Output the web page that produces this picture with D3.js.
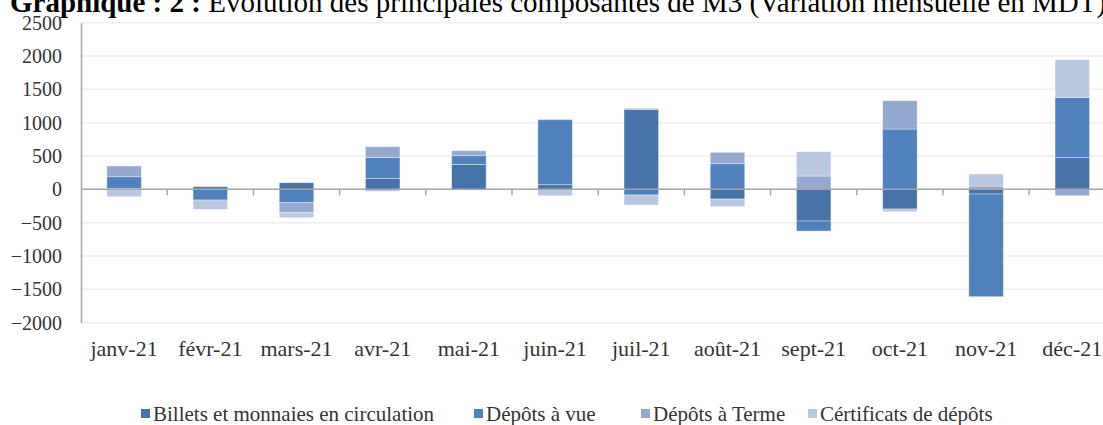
<!DOCTYPE html>
<html><head><meta charset="utf-8">
<script src="https://cdn.jsdelivr.net/npm/d3@7"></script>
<style>html,body{margin:0;padding:0;background:#fff;overflow:hidden}svg{display:block;font-family:"Liberation Serif","Times New Roman",serif}svg text{font-family:"Liberation Serif","Times New Roman",serif}</style>
</head><body>
<svg id="c" width="1103" height="425"></svg>
<script>
const months = ["janv-21","févr-21","mars-21","avr-21","mai-21","juin-21","juil-21","août-21","sept-21","oct-21","nov-21","déc-21"];
const billets = [15, 40, 100, 165, 375, 70, 1200, -145, -475, -295, -70, 480];
const vue     = [175, -160, -200, 315, 130, 975, -85, 385, -150, 905, -1540, 900];
const terme   = [160, 0, -150, 160, 75, 10, 15, 170, 200, 425, 50, -95];
const cert    = [-110, -140, -75, -30, 0, -95, -150, -115, 365, -40, 180, 565];
const seriesNames = ["Billets et monnaies en circulation","Dépôts à vue","Dépôts à Terme","Cértificats de dépôts"];
const yTicks = [-2000,-1500,-1000,-500,0,500,1000,1500,2000,2500];
const colors = ["#4674A8","#4F81BD","#95A9D0","#B9C7E1"];

const rows = months.map((m,i)=>({m, s0:billets[i], s1:vue[i], s2:terme[i], s3:cert[i]}));
const keys = ["s0","s1","s2","s3"];
const stack = d3.stack().keys(keys).offset(d3.stackOffsetDiverging)(rows);

const svg = d3.select("#c");
const left = 81, right = 81 + 12*86.2;
const x = d3.scaleBand().domain(months).range([left,right]).paddingInner(0.6).paddingOuter(0.3);
const y = d3.scaleLinear().domain([-2000,2500]).range([322.7,22.7]);

// gridlines
svg.append("g").selectAll("line").data(yTicks).join("line")
  .attr("x1",left).attr("x2",right).attr("y1",d=>y(d)).attr("y2",d=>y(d))
  .attr("stroke","#EDEDED").attr("stroke-width",1.5);

// bars
svg.append("g").selectAll("g").data(stack).join("g")
  .attr("fill",(d,i)=>colors[i])
  .selectAll("rect").data(d=>d).join("rect")
  .attr("x",d=>x(d.data.m)).attr("width",x.bandwidth())
  .attr("y",d=>y(Math.max(d[0],d[1]))).attr("height",d=>Math.abs(y(d[0])-y(d[1])))
  .attr("stroke","#ffffff").attr("stroke-opacity",0.45).attr("stroke-width",0.8);

// y axis
const yAxis = d3.axisLeft(y).tickValues(yTicks).tickSize(0).tickPadding(19).tickFormat(d3.format("d"));
const gy = svg.append("g").attr("transform",`translate(${left},0)`).call(yAxis);
gy.select(".domain").attr("stroke","#A6A6A6").attr("stroke-width",1.5);
gy.selectAll("text").attr("font-family",null).attr("font-size",20).attr("fill","#333");

// zero axis with ticks between categories
const boundaries = d3.range(13).map(k=>left + k*x.step());
const gx = svg.append("g").attr("transform",`translate(0,${y(0)})`);
gx.append("line").attr("x1",left).attr("x2",right).attr("stroke","#A6A6A6").attr("stroke-width",1.5);
gx.selectAll(".bt").data(boundaries.slice(1)).join("line").attr("class","bt")
  .attr("x1",d=>d).attr("x2",d=>d).attr("y1",0).attr("y2",6)
  .attr("stroke","#A6A6A6").attr("stroke-width",1.5);

// category labels
svg.append("g").selectAll("text").data(months).join("text")
  .attr("x",d=>x(d)+x.bandwidth()/2).attr("y",356)
  .attr("text-anchor","middle").attr("font-size",22).attr("fill","#333")
  .text(d=>d);

// title
const t = svg.append("text").attr("x",10).attr("y",12).attr("font-size",29).attr("fill","#000");
t.append("tspan").attr("font-weight","bold").text("Graphique : 2 : ");
t.append("tspan").text("Évolution des principales composantes de M3 (Variation mensuelle en MDT)");

// legend
const legX = [141, 474, 641, 808];
const lg = svg.append("g").selectAll("g").data(seriesNames).join("g")
  .attr("transform",(d,i)=>`translate(${legX[i]},414)`);
lg.append("rect").attr("x",0).attr("y",-5).attr("width",9).attr("height",9).attr("fill",(d,i)=>colors[i]);
lg.append("text").attr("x",12).attr("y",7).attr("font-size",21).attr("fill","#333").text(d=>d);
</script>
</body></html>
